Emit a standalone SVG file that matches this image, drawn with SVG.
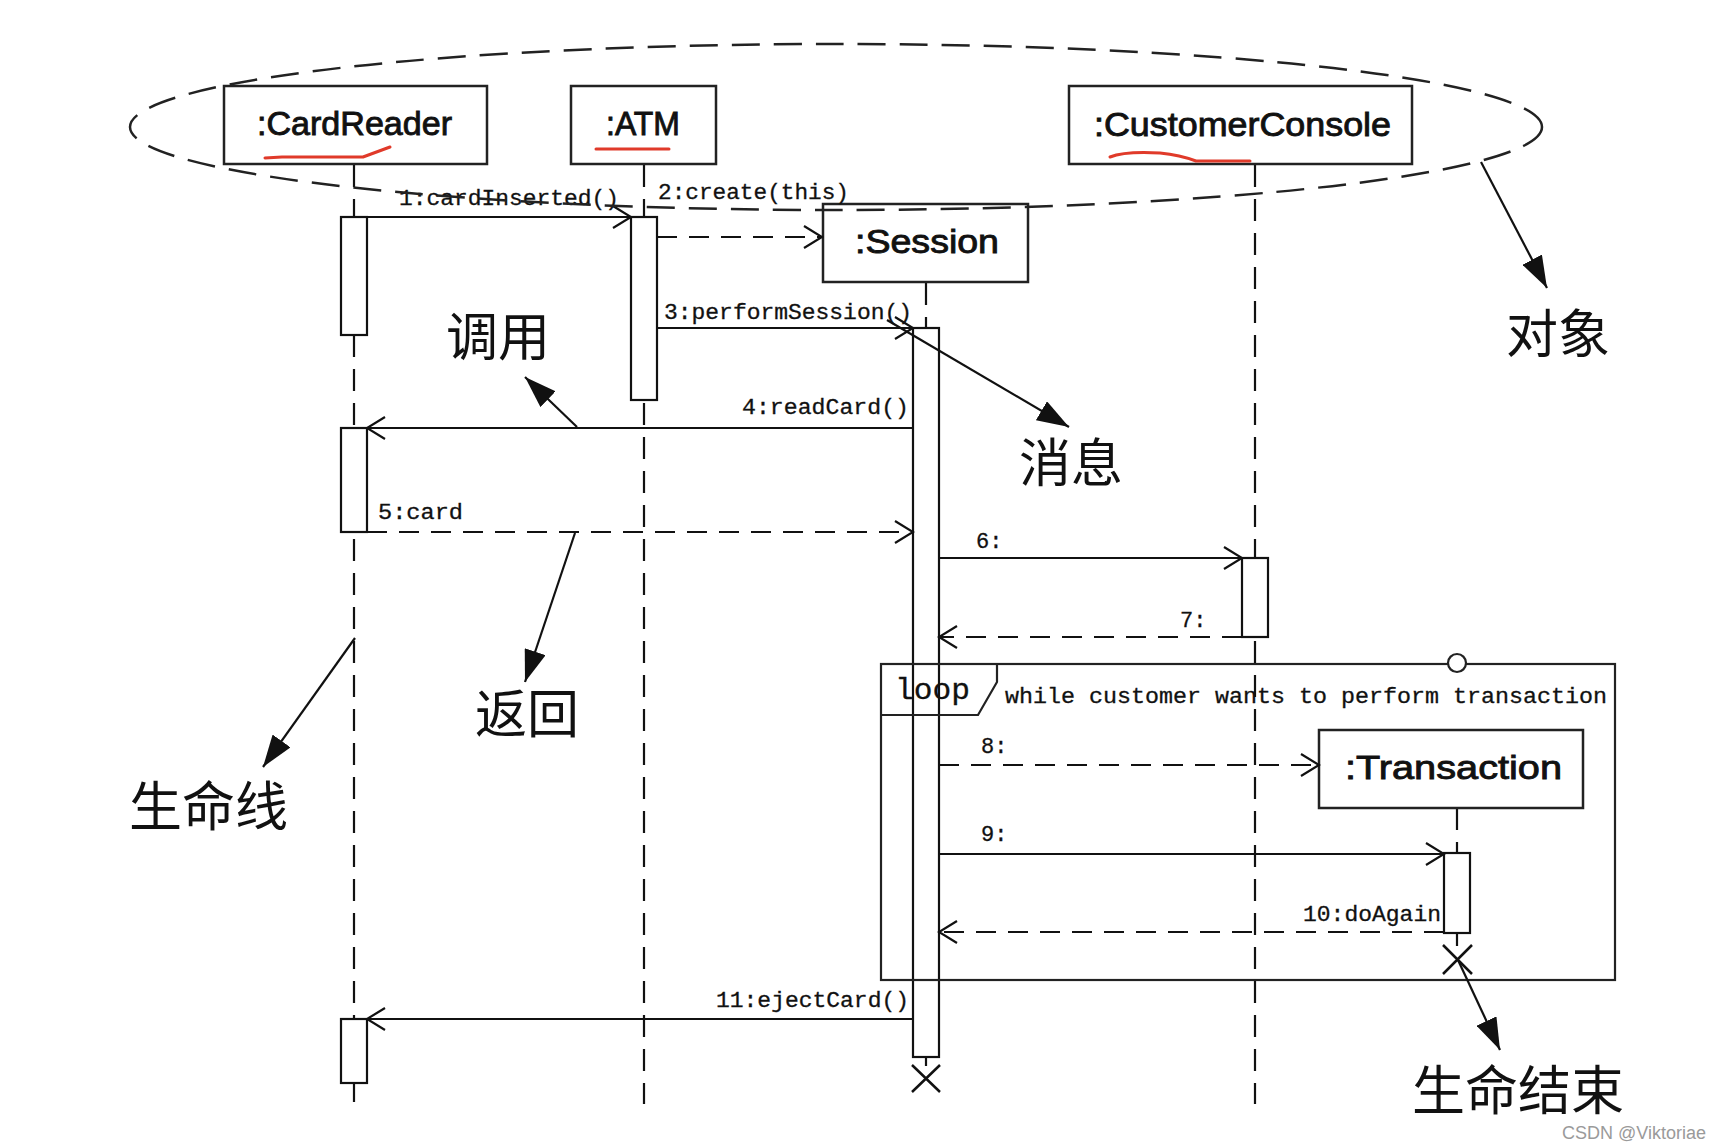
<svg xmlns="http://www.w3.org/2000/svg" width="1728" height="1148" viewBox="0 0 1728 1148">
<defs>
<style>
.box{fill:#fff;stroke:#222;stroke-width:2.5}
.act{fill:#fff;stroke:#111;stroke-width:2.2}
.life{fill:none;stroke:#111;stroke-width:2.2;stroke-dasharray:22 12}
.msg{fill:none;stroke:#111;stroke-width:2.2;marker-end:url(#open)}
.ret{fill:none;stroke:#111;stroke-width:2.2;stroke-dasharray:20 12;marker-end:url(#open)}
.ann{fill:none;stroke:#111;stroke-width:2.2;marker-end:url(#tri)}
.name{font-family:"Liberation Sans",Arial,sans-serif;font-size:34px;fill:#111;stroke:#111;stroke-width:0.9}
.lbl{font-family:"Liberation Mono","Courier New",monospace;font-size:22px;fill:#111;stroke:#111;stroke-width:0.3}
.cjk{font-family:"Noto Sans CJK SC","Noto Sans CJK JP",sans-serif;font-size:52px;fill:#111}
.red{fill:none;stroke:#e03a2a;stroke-width:3;stroke-linecap:round;stroke-linejoin:round}
.frame{fill:none;stroke:#222;stroke-width:2.2}
</style>
<marker id="open" markerUnits="userSpaceOnUse" markerWidth="22" markerHeight="26" viewBox="0 0 22 26" refX="20" refY="13" orient="auto">
<path d="M2,2 L20,13 L2,24" fill="none" stroke="#111" stroke-width="2.2"/>
</marker>
<marker id="tri" markerUnits="userSpaceOnUse" markerWidth="32" markerHeight="22" viewBox="0 0 32 22" refX="32" refY="11" orient="auto">
<path d="M0,0 L32,11 L0,22 z" fill="#111"/>
</marker>
</defs>
<rect width="1728" height="1148" fill="#fff"/>

<g id="lifelines">
<line class="life" x1="354" y1="165" x2="354" y2="1102"/>
<line class="life" x1="644" y1="165" x2="644" y2="1104"/>
<line class="life" x1="926" y1="283" x2="926" y2="328"/>
<line class="life" x1="926" y1="1058" x2="926" y2="1066"/>
<line class="life" x1="1255" y1="165" x2="1255" y2="1104"/>
<line class="life" x1="1457" y1="808" x2="1457" y2="853"/>
<line class="life" x1="1457" y1="933" x2="1457" y2="946"/>
</g>

<g id="node-cardreader">
<rect class="box" x="224" y="86" width="263" height="78"/>
<text class="name" x="257" y="135" textLength="195" lengthAdjust="spacingAndGlyphs">:CardReader</text>
<path class="red" d="M265,158 L282,157 L363,157 L390,147"/>
<rect class="act" x="341" y="217" width="26" height="118"/>
<rect class="act" x="341" y="428" width="26" height="104"/>
<rect class="act" x="341" y="1019" width="26" height="64"/>
</g>

<g id="node-atm">
<rect class="box" x="571" y="86" width="145" height="78"/>
<text class="name" x="606" y="135" textLength="74" lengthAdjust="spacingAndGlyphs">:ATM</text>
<path class="red" d="M596,149 L669,149"/>
<rect class="act" x="631" y="217" width="26" height="183"/>
</g>

<g id="node-console">
<rect class="box" x="1069" y="86" width="343" height="78"/>
<text class="name" x="1094" y="136" textLength="297" lengthAdjust="spacingAndGlyphs">:CustomerConsole</text>
<path class="red" d="M1110,157 Q1125,151 1160,153 Q1180,155 1196,161 L1250,161"/>
<rect class="act" x="1242" y="558" width="26" height="79"/>
</g>

<g id="node-session">
<rect class="box" x="823" y="204" width="205" height="78"/>
<text class="name" x="855" y="253" textLength="144" lengthAdjust="spacingAndGlyphs">:Session</text>
<rect class="act" x="913" y="328" width="26" height="729"/>
<path d="M912,1065 L940,1092 M940,1065 L912,1092" stroke="#111" stroke-width="2.5" fill="none"/>
</g>

<g id="node-transaction">
<rect class="box" x="1319" y="730" width="264" height="78"/>
<text class="name" x="1345" y="779" textLength="217" lengthAdjust="spacingAndGlyphs">:Transaction</text>
<rect class="act" x="1444" y="853" width="26" height="80"/>
<path d="M1443,945 L1472,974 M1472,945 L1443,974" stroke="#111" stroke-width="2.5" fill="none"/>
</g>

<g id="loop-frame">
<rect class="frame" x="881" y="664" width="734" height="316"/>
<path class="frame" d="M881,715 L978,715 L997,682 L997,664"/>
<text class="lbl" x="895" y="699" style="font-size:30px" textLength="75" lengthAdjust="spacingAndGlyphs">loop</text>
<text class="lbl" x="1005" y="703" textLength="602" lengthAdjust="spacingAndGlyphs">while customer wants to perform transaction</text>
<circle cx="1457" cy="663" r="9" fill="#fff" stroke="#222" stroke-width="2.2"/>
</g>

<g id="connectors">
<line class="msg" x1="367" y1="217" x2="631" y2="217"/>
<text class="lbl" x="399" y="205" textLength="220" lengthAdjust="spacingAndGlyphs">1:cardInserted()</text>
<line class="ret" x1="657" y1="237" x2="822" y2="237"/>
<text class="lbl" x="658" y="199" textLength="191" lengthAdjust="spacingAndGlyphs">2:create(this)</text>
<line class="msg" x1="657" y1="328" x2="913" y2="328"/>
<text class="lbl" x="664" y="319" textLength="248" lengthAdjust="spacingAndGlyphs">3:performSession()</text>
<line class="msg" x1="913" y1="428" x2="367" y2="428"/>
<text class="lbl" x="742" y="414" textLength="167" lengthAdjust="spacingAndGlyphs">4:readCard()</text>
<line class="ret" x1="367" y1="532" x2="913" y2="532"/>
<text class="lbl" x="378" y="519" textLength="85" lengthAdjust="spacingAndGlyphs">5:card</text>
<line class="msg" x1="939" y1="558" x2="1242" y2="558"/>
<text class="lbl" x="976" y="548">6:</text>
<line class="ret" x1="1242" y1="637" x2="939" y2="637"/>
<text class="lbl" x="1180" y="627">7:</text>
<line class="ret" x1="939" y1="765" x2="1319" y2="765"/>
<text class="lbl" x="981" y="753">8:</text>
<line class="msg" x1="939" y1="854" x2="1444" y2="854"/>
<text class="lbl" x="981" y="841">9:</text>
<line class="ret" x1="1444" y1="932" x2="939" y2="932"/>
<text class="lbl" x="1303" y="921" textLength="138" lengthAdjust="spacingAndGlyphs">10:doAgain</text>
<line class="msg" x1="913" y1="1019" x2="367" y2="1019"/>
<text class="lbl" x="716" y="1007" textLength="193" lengthAdjust="spacingAndGlyphs">11:ejectCard()</text>
</g>

<g id="objects-ellipse">
<ellipse cx="836" cy="127" rx="706" ry="83" fill="none" stroke="#222" stroke-width="2.5" stroke-dasharray="28 14"/>
</g>

<g id="annotations">
<line class="ann" x1="577" y1="427" x2="525" y2="377"/>
<text class="cjk" x="446" y="356">调用</text>
<line class="ann" x1="887" y1="320" x2="1069" y2="427"/>
<text class="cjk" x="1019" y="482">消息</text>
<line class="ann" x1="1481" y1="162" x2="1547" y2="288"/>
<text class="cjk" x="1506" y="353">对象</text>
<line class="ann" x1="575" y1="533" x2="525" y2="682"/>
<text class="cjk" x="475" y="733">返回</text>
<line class="ann" x1="355" y1="638" x2="263" y2="767"/>
<text class="cjk" x="129" y="826" style="font-size:53px">生命线</text>
<line class="ann" x1="1458" y1="960" x2="1500" y2="1050"/>
<text class="cjk" x="1412" y="1110" style="font-size:53px">生命结束</text>
<text x="1562" y="1139" style="font-family:'Liberation Sans',Arial,sans-serif;font-size:18px;fill:#9a9a9a">CSDN @Viktoriae</text>
</g>
</svg>
